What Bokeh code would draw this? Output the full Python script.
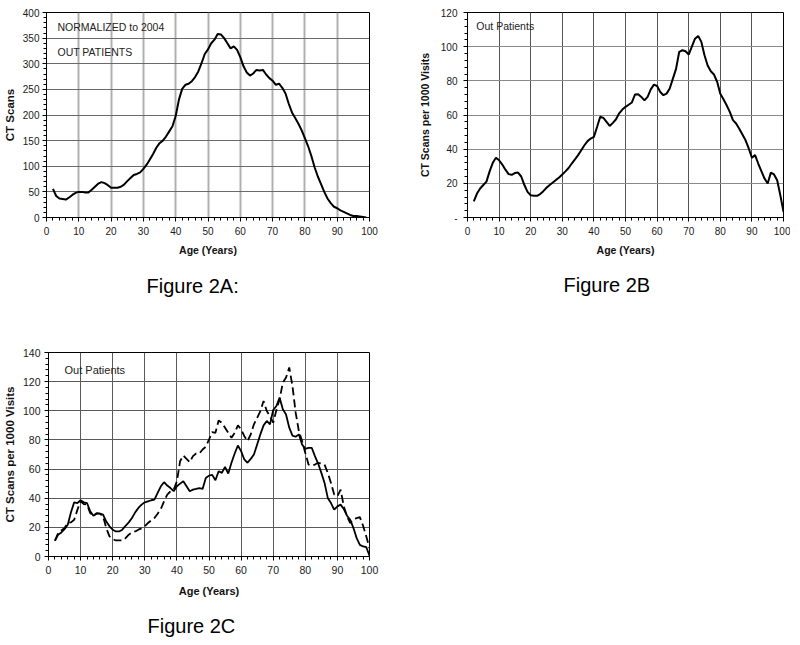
from bokeh.plotting import figure
from bokeh.models import FixedTicker, Label, Title, Range1d
from bokeh.layouts import column, row
from bokeh.embed import file_html
from bokeh.resources import INLINE

FONT = "Liberation Sans"

# ---------------- data ----------------
ages_a = [2, 3, 4, 5, 6, 7, 8, 9, 10, 11, 12, 13, 14, 15, 16, 17, 18, 19, 20, 21,
          22, 23, 24, 25, 26, 27, 28, 29, 30, 31, 32, 33, 34, 35, 36, 37, 38, 39, 40, 41,
          42, 43, 44, 45, 46, 47, 48, 49, 50, 51, 52, 53, 54, 55, 56, 57, 58, 59, 60, 61,
          62, 63, 64, 65, 66, 67, 68, 69, 70, 71, 72, 73, 74, 75, 76, 77, 78, 79, 80, 81,
          82, 83, 84, 85, 86, 87, 88, 89, 90, 91, 92, 93, 94, 95, 96, 97, 98, 99]
ct_scans_a = [56, 42, 37, 36, 35, 39, 44, 48, 50, 50,
              49, 49, 54, 60, 66, 69, 67, 63, 58, 58,
              58, 60, 64, 71, 77, 83, 85, 88, 95, 103,
              113, 124, 136, 145, 150, 158, 168, 178, 198, 230,
              251, 259, 261, 266, 274, 285, 301, 319, 328, 340,
              347, 358, 357, 350, 340, 330, 334, 327, 313, 295,
              283, 277, 281, 288, 287, 288, 279, 272, 267, 259,
              261, 253, 242, 222, 205, 194, 183, 170, 155, 139,
              120, 98, 80, 65, 50, 37, 28, 21, 18, 14,
              11, 8, 5, 3, 3, 2, 1, 0]

ages_bc = [2, 3, 4, 5, 6, 7, 8, 9, 10, 11, 12, 13, 14, 15, 16, 17, 18, 19, 20, 21,
           22, 23, 24, 25, 26, 27, 28, 29, 30, 31, 32, 33, 34, 35, 36, 37, 38, 39, 40, 41,
           42, 43, 44, 45, 46, 47, 48, 49, 50, 51, 52, 53, 54, 55, 56, 57, 58, 59, 60, 61,
           62, 63, 64, 65, 66, 67, 68, 69, 70, 71, 72, 73, 74, 75, 76, 77, 78, 79, 80, 81,
           82, 83, 84, 85, 86, 87, 88, 89, 90, 91, 92, 93, 94, 95, 96, 97, 98, 99, 100]
per1000_b = [9.5, 14, 17, 19, 21, 27, 32, 35, 33.5, 31,
             28, 25.4, 25, 26, 26.3, 24, 19, 15, 13, 12.7,
             12.7, 13.7, 15.4, 17.4, 19, 20.5, 22, 23.4, 25.2, 27,
             29, 31.6, 34, 36.5, 39.4, 42.3, 44.7, 46.2, 47.2, 53,
             59, 58.3, 56, 53.6, 55.4, 57.5, 61, 63.2, 64.8, 66,
             67.3, 72, 72.2, 70.6, 68.6, 70.6, 75, 77.8, 77, 73.5,
             71.6, 72.5, 75.5, 81.3, 87, 97, 97.9, 97.3, 95.4, 100,
             104.7, 106.3, 102.8, 95, 89, 85.6, 83.7, 79.4, 72.5, 69.2,
             65.7, 61.8, 57, 55, 52, 48.6, 45.2, 40.4, 35, 36.5,
             31.6, 27.1, 22.8, 19.9, 26.3, 25.2, 21.8, 13, 3.3]
per1000_c_solid = [10.8, 15, 16.5, 18.8, 21.8, 30.3, 37.2, 36.7, 38.6, 37.2,
                   36.7, 31, 28, 29.4, 29.4, 28.7, 24, 20.7, 18.4, 17.2,
                   17.2, 18.4, 21.1, 23.4, 26.4, 30.3, 33.3, 35.6, 37.2, 37.9,
                   38.6, 39, 43.6, 48.2, 51, 48.7, 47, 44.8, 48.2, 50,
                   51.6, 48.2, 44.8, 45.9, 46.4, 47, 46.4, 53.9, 55.5, 56,
                   52.3, 58.5, 57.4, 61.5, 56.9, 64.3, 70.7, 76.2, 72.3, 66.6,
                   64.3, 67, 70, 76.9, 83.8, 90, 93, 90.7, 100.5, 103.3,
                   109, 101, 97.5, 88.4, 83, 82.2, 83.8, 76.9, 73.9, 74.6,
                   74.6, 68.9, 63.8, 57.4, 50.5, 40.2, 36.7, 32.1, 34.4, 35.6,
                   32.6, 28, 25.2, 19.5, 12.6, 8, 6.9, 6.4, 0.5]
per1000_c_dashed = [10.8, 16, 17.9, 19.5, 23, 23.4, 25.2, 32, 37.9, 36,
                    35.6, 29.8, 28, 29.8, 29.4, 27.5, 19.5, 13.8, 11.9, 11,
                    11, 11, 12.6, 15, 16.5, 17.2, 18.4, 19.3, 20.7, 23,
                    24.8, 26.4, 29.4, 32.6, 37.9, 42.5, 44.8, 45.9, 51.6, 65.4,
                    69.3, 67, 64.7, 68.9, 70.7, 70.7, 73.4, 75.3, 80.3, 85.4,
                    84.9, 93.4, 91.8, 88.4, 84.9, 81.5, 84.9, 90, 87.2, 82.6,
                    79.2, 83.8, 90.7, 95.2, 99.8, 106.7, 99.8, 96.4, 91.8, 100.5,
                    107.9, 119.3, 122.8, 129.7, 117, 98.7, 86, 79.2, 71.1, 63.1,
                    62.4, 63.1, 64.3, 63.8, 63.1, 57.4, 50.5, 42.5, 41.3, 45.9,
                    34.4, 27.5, 23, 25.2, 26.4, 27, 21.1, 13.8, 5.7]

x_ticks = [0, 10, 20, 30, 40, 50, 60, 70, 80, 90, 100]
x_minor = [0, 2, 4, 6, 8, 10, 12, 14, 16, 18, 20, 22, 24, 26, 28, 30, 32, 34, 36, 38,
           40, 42, 44, 46, 48, 50, 52, 54, 56, 58, 60, 62, 64, 66, 68, 70, 72, 74, 76, 78,
           80, 82, 84, 86, 88, 90, 92, 94, 96, 98, 100]
y_ticks_a = [0, 50, 100, 150, 200, 250, 300, 350, 400]
y_minor_a = [0, 10, 20, 30, 40, 50, 60, 70, 80, 90, 100, 110, 120, 130, 140, 150, 160,
             170, 180, 190, 200, 210, 220, 230, 240, 250, 260, 270, 280, 290, 300, 310,
             320, 330, 340, 350, 360, 370, 380, 390, 400]
y_ticks_b = [0, 20, 40, 60, 80, 100, 120]
y_minor_b = [0, 4, 8, 12, 16, 20, 24, 28, 32, 36, 40, 44, 48, 52, 56, 60, 64, 68, 72,
             76, 80, 84, 88, 92, 96, 100, 104, 108, 112, 116, 120]
y_ticks_c = [0, 20, 40, 60, 80, 100, 120, 140]
y_minor_c = [0, 4, 8, 12, 16, 20, 24, 28, 32, 36, 40, 44, 48, 52, 56, 60, 64, 68, 72,
             76, 80, 84, 88, 92, 96, 100, 104, 108, 112, 116, 120, 124, 128, 132, 136, 140]


def make_fig(frame_w, frame_h, ml, mr, mt, mb, ymax, yticks, yminor, ylabel,
             ylabel_size, tick_size, xlabel_size, ylab_standoff, ytick_standoff,
             xlab_standoff, xgrid_color, xgrid_width, ygrid_color, ygrid_width):
    p = figure(frame_width=frame_w, frame_height=frame_h,
               min_border_left=ml, min_border_right=mr,
               min_border_top=mt, min_border_bottom=mb,
               x_range=Range1d(0, 100), y_range=Range1d(0, ymax),
               output_backend="svg", toolbar_location=None, title=None)
    p.background_fill_color = "white"
    p.border_fill_color = "white"
    p.outline_line_color = "black"
    p.outline_line_width = 1
    p.xaxis.ticker = FixedTicker(ticks=x_ticks, minor_ticks=x_minor)
    p.yaxis.ticker = FixedTicker(ticks=yticks, minor_ticks=yminor)
    for ax in (p.xaxis, p.yaxis):
        ax.axis_line_color = "black"
        ax.major_tick_line_color = "black"
        ax.minor_tick_line_color = "black"
        ax.major_tick_in = 0
        ax.major_tick_out = 4
        ax.minor_tick_in = 0
        ax.minor_tick_out = 3
        ax.major_label_text_font = FONT
        ax.major_label_text_font_size = tick_size
        ax.major_label_text_color = "#1a1a1a"
        ax.axis_label_text_font = FONT
        ax.axis_label_text_font_style = "bold"
        ax.axis_label_text_color = "#111111"
    p.xaxis.axis_label = "Age (Years)"
    p.xaxis.axis_label_text_font_size = xlabel_size
    p.xaxis.major_label_standoff = 5
    p.xaxis.axis_label_standoff = xlab_standoff
    p.yaxis.axis_label = ylabel
    p.yaxis.axis_label_text_font_size = ylabel_size
    p.yaxis.major_label_standoff = ytick_standoff
    p.yaxis.axis_label_standoff = ylab_standoff
    p.xgrid.grid_line_color = xgrid_color
    p.xgrid.grid_line_width = xgrid_width
    p.ygrid.grid_line_color = ygrid_color
    p.ygrid.grid_line_width = ygrid_width
    return p


def caption(p, text, offset, standoff):
    t = Title(text=text, align="left", offset=offset, text_font=FONT,
              text_font_size="20px", text_font_style="normal",
              text_color="black", standoff=standoff)
    p.add_layout(t, "below")


def note(p, x, y, text, size):
    p.add_layout(Label(x=x, y=y, text=text, text_font=FONT, text_font_size=size,
                       text_color="#222222", text_baseline="middle"))


# ---------------- Figure 2A ----------------
pA = make_fig(323, 205, 40, 29, 11, 121, 400, y_ticks_a, y_minor_a, "CT Scans",
              "11.5px", "10px", "10.5px", 4, 3, 6, "#b0b0b0", 2, "#6a6a6a", 1)
pA.line(ages_a, ct_scans_a, line_color="black", line_width=2)
note(pA, 3.4, 372, "NORMALIZED to 2004", "10.5px")
note(pA, 3.4, 322, "OUT PATIENTS", "10.5px")
caption(pA, "Figure 2A:", 100, 28)

# ---------------- Figure 2B ----------------
pB = make_fig(316, 205, 69, 7, 12, 120, 120, y_ticks_b, y_minor_b,
              "CT Scans per 1000 Visits", "10.5px", "10px", "10.5px", 7, 6, 6,
              "#555555", 1, "#8a8a8a", 1)
pB.yaxis.major_label_overrides = {0: "-"}
pB.line(ages_bc, per1000_b, line_color="black", line_width=2)
note(pB, 2.8, 112, "Out Patients", "10.5px")
caption(pB, "Figure 2B", 96, 27)

# ---------------- Figure 2C ----------------
pC = make_fig(321, 204, 42, 29, 15, 88, 140, y_ticks_c, y_minor_c,
              "CT Scans per 1000 Visits", "11.5px", "10.5px", "11px", 4, 4, 8,
              "#5a5a5a", 1, "#5a5a5a", 1)
pC.line(ages_bc, per1000_c_dashed, line_color="black", line_width=1.8,
        line_dash="8 4")
pC.line(ages_bc, per1000_c_solid, line_color="black", line_width=1.8)
note(pC, 5, 128, "Out Patients", "11px")
caption(pC, "Figure 2C", 99, 27)

layout = column(row(pA, pB), pC)

with open("out.html", "w") as f:
    f.write(file_html(layout, INLINE))
